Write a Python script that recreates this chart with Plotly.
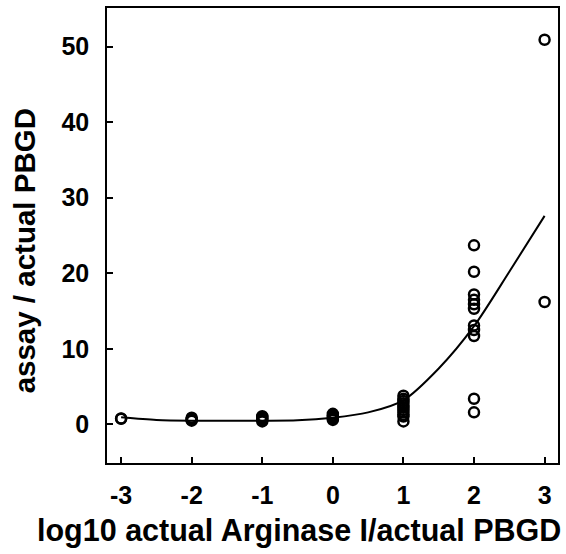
import plotly.graph_objects as go

# Observed ratios grouped by log10(Arginase I / PBGD)
x_levels = [-3, -2, -1, 0, 1, 2, 3]
ratio_m3 = [0.8, 0.75]
ratio_m2 = [0.5, 0.7, 0.9, 0.6]
ratio_m1 = [0.4, 0.6, 0.8, 1.0, 1.1]
ratio_0 = [0.6, 0.8, 1.0, 1.2, 1.4]
ratio_p1 = [0.4, 1.05, 1.3, 1.6, 1.9, 2.2, 2.5, 2.8, 3.1, 3.4, 3.8]
ratio_p2 = [1.6, 3.4, 11.7, 12.5, 13.1, 15.3, 15.9, 16.5, 17.2, 20.2, 23.7]
ratio_p3 = [16.2, 50.9]

# Fitted trend curve
fit_x = [-3, -2.5, -2, -1.5, -1, -0.5, 0, 0.5, 1, 1.5, 2, 2.5, 3]
fit_y = [0.95, 0.6, 0.5, 0.5, 0.5, 0.55, 0.9, 1.6, 3.2, 7.4, 13.0, 20.2, 27.6]

x_ticks = [-3, -2, -1, 0, 1, 2, 3]
y_ticks = [0, 10, 20, 30, 40, 50]

groups = [ratio_m3, ratio_m2, ratio_m1, ratio_0, ratio_p1, ratio_p2, ratio_p3]
pts_x, pts_y = [], []
for xv, vals in zip(x_levels, groups):
    pts_x += [xv] * len(vals)
    pts_y += vals

FONT = "Liberation Sans, Arial, sans-serif"

fig = go.Figure()
fig.add_trace(go.Scatter(
    x=pts_x, y=pts_y, mode="markers",
    marker=dict(symbol="circle-open", size=10, color="black",
                line=dict(width=2.5, color="black")),
    showlegend=False,
))
fig.add_trace(go.Scatter(
    x=fit_x, y=fit_y, mode="lines",
    line=dict(color="black", width=2, shape="spline", smoothing=0.8),
    showlegend=False,
))

axis_common = dict(
    showgrid=False, zeroline=False, showline=True, linecolor="black",
    linewidth=1.5, mirror=True, ticks="inside", ticklen=6, tickwidth=1.5,
    tickcolor="black",
    tickfont=dict(family=FONT, size=25, color="black", weight="bold"),
)

fig.update_layout(
    width=566, height=554,
    margin=dict(l=107, r=6, t=8, b=91),
    paper_bgcolor="white", plot_bgcolor="white",
    xaxis=dict(range=[-3.2, 3.19], tickvals=x_ticks,
               ticktext=[str(v) for v in x_ticks],
               ticklabelstandoff=9, **axis_common),
    yaxis=dict(range=[-5.1, 55.1], tickvals=y_ticks,
               ticktext=[str(v) for v in y_ticks],
               ticklabelstandoff=11, **axis_common),
    annotations=[
        dict(text="log10 actual Arginase I/actual PBGD", xref="paper",
             yref="paper", x=(300 - 107) / 453, y=-(529 - 462) / 455,
             xanchor="center", yanchor="middle", showarrow=False,
             font=dict(family=FONT, size=30.5, color="black", weight="bold")),
        dict(text="assay / actual PBGD", xref="paper", yref="paper",
             x=-(107 - 24) / 453, y=(462 - 250) / 455, textangle=-90,
             xanchor="center", yanchor="middle", showarrow=False,
             font=dict(family=FONT, size=29.5, color="black", weight="bold")),
    ],
)

fig.write_html("out.html")
